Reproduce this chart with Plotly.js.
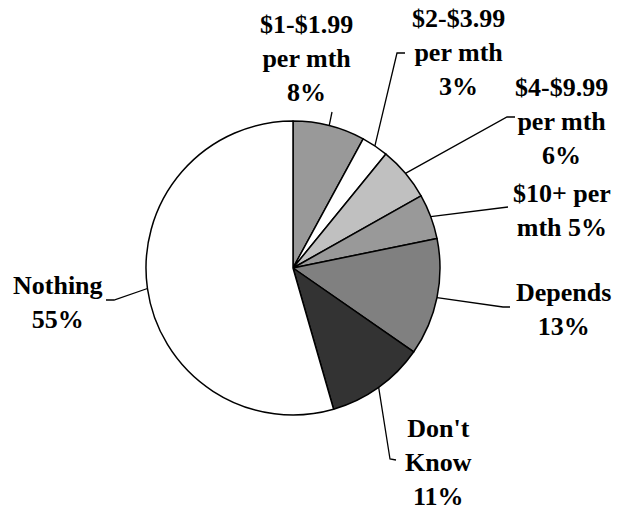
<!DOCTYPE html>
<html>
<head>
<meta charset="utf-8">
<script src="https://cdn.plot.ly/plotly-3.0.1.min.js"></script>
<style>html,body{margin:0;padding:0;background:#fff;}#chart{width:617px;height:513px;}</style>
</head>
<body>
<div id="chart"></div>
<script>
// ---- data ----
var categories = ["$1-$1.99 per mth", "$2-$3.99 per mth", "$4-$9.99 per mth", "$10+ per mth", "Depends", "Don't Know", "Nothing"];
var values = [8, 3, 6, 5, 13, 11, 55];
var labelTexts = ["$1-$1.99<br>per mth<br>8%", "$2-$3.99<br>per mth<br>3%", "$4-$9.99<br>per mth<br>6%", "$10+ per<br>mth 5%", "Depends<br>13%", "Don't<br>Know<br>11%", "Nothing<br>55%"];

// ---- layout / style ----
var W = 617, H = 513;
var cx = 293, cy = 268, R = 147;
var colors = ["#999999", "#ffffff", "#c0c0c0", "#999999", "#808080", "#333333", "#ffffff"];
// label centre [x,y] and leader line elbow [x,y], end [x,y] in pixels
var labelPos = [[306, 59], [458, 52], [561, 121], [562, 210], [563, 309], [439, 462], [58, 302]];
var leaderPts = [
  [[332, 112]],
  [[397, 53], [405, 53]],
  [[507, 117], [515, 117]],
  [[508, 207]],
  [[503, 307], [510, 307]],
  [[390, 459], [396, 460]],
  [[114, 300], [106, 300]]
];
var FONT = "Liberation Serif, Times New Roman, serif";

function px(x) { return x / W; }
function py(y) { return 1 - y / H; }

var total = values.reduce(function (a, b) { return a + b; }, 0);
var shapes = [], annotations = [];
var cum = 0;
values.forEach(function (v, i) {
  var mid = (cum + v / 2) / total * 2 * Math.PI;
  cum += v;
  var ex = cx + R * Math.sin(mid), ey = cy - R * Math.cos(mid);
  var path = "M" + px(ex) + "," + py(ey);
  leaderPts[i].forEach(function (p) { path += " L" + px(p[0]) + "," + py(p[1]); });
  shapes.push({ type: "path", xref: "paper", yref: "paper", path: path, line: { color: "#000", width: 1.3 } });
  annotations.push({
    xref: "paper", yref: "paper", x: px(labelPos[i][0]), y: py(labelPos[i][1]),
    xanchor: "center", yanchor: "middle", showarrow: false, align: "center",
    text: labelTexts[i],
    font: { family: FONT, size: 26, color: "#000", weight: "bold" }
  });
});

var trace = {
  type: "pie",
  labels: categories,
  values: values,
  sort: false,
  direction: "clockwise",
  rotation: 0,
  textinfo: "none",
  hoverinfo: "label+percent",
  marker: { colors: colors, line: { color: "#000", width: 1.5 } },
  domain: { x: [px(cx - R), px(cx + R)], y: [py(cy + R), py(cy - R)] }
};

var layout = {
  width: W, height: H,
  margin: { l: 0, r: 0, t: 0, b: 0 },
  showlegend: false,
  paper_bgcolor: "#fff",
  font: { family: FONT },
  shapes: shapes,
  annotations: annotations
};

Plotly.newPlot("chart", [trace], layout, { displayModeBar: false, staticPlot: true });
</script>
</body>
</html>
